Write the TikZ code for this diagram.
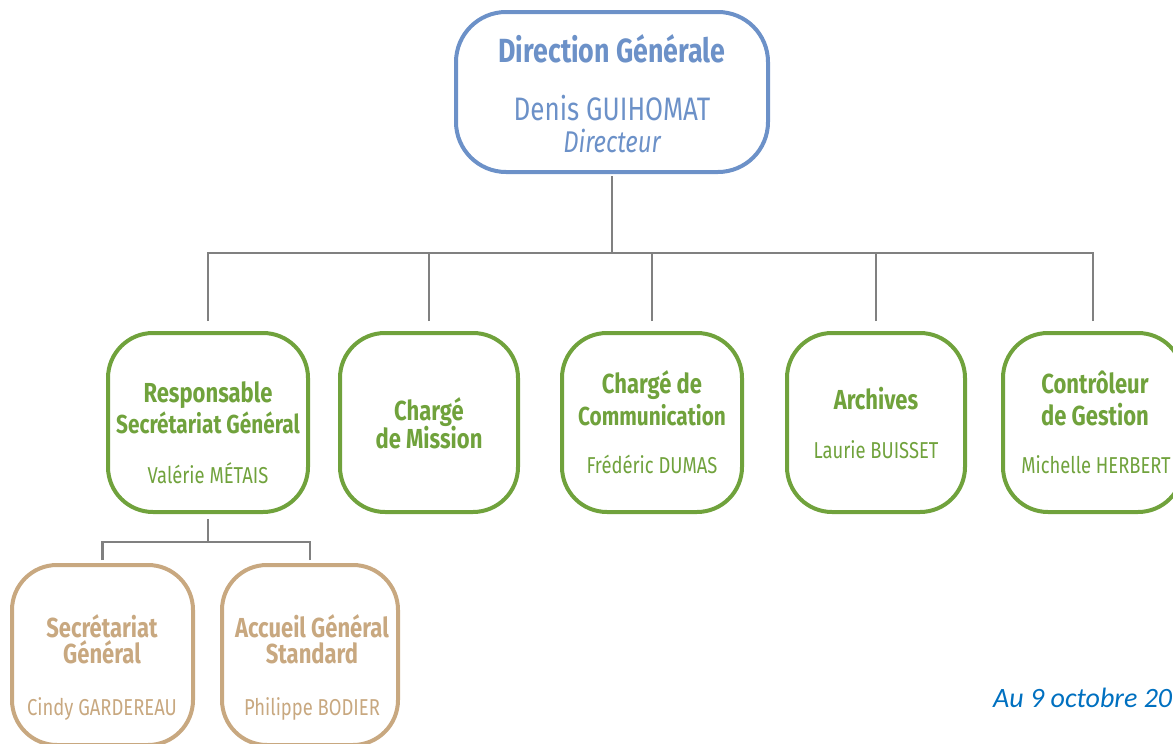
\documentclass[tikz,border=0pt]{standalone}
\usepackage{fontspec}
\setmainfont[FakeStretch=0.8]{Fira Sans}
\newfontfamily\datefont{Carlito}
\usepackage{tikz}
\usetikzlibrary{positioning}
\definecolor{dgblue}{RGB}{108,145,200}
\definecolor{dggreen}{RGB}{112,162,60}
\definecolor{dgbrown}{RGB}{200,168,128}
\definecolor{dggray}{RGB}{128,128,128}
\definecolor{dgdate}{RGB}{0,112,192}
\tikzstyle{topbox} = [rectangle, rounded corners=50pt, minimum width=312pt, minimum height=160pt, draw=dgblue, line width=4pt, inner sep=0pt]
\tikzstyle{unitbox} = [rectangle, rounded corners=45pt, minimum height=179pt, draw=dggreen, line width=4pt, inner sep=0pt]
\tikzstyle{subbox} = [rectangle, rounded corners=45pt, minimum height=180pt, draw=dgbrown, line width=4pt, inner sep=0pt]
\tikzstyle{link} = [line width=2.5pt, color=dggray]
\tikzstyle{toptitle} = [anchor=base, inner sep=0pt, text=dgblue, font=\bfseries\fontsize{33.5}{40}\selectfont]
\tikzstyle{topname} = [anchor=base, inner sep=0pt, text=dgblue, font=\fontsize{32.5}{39}\selectfont]
\tikzstyle{unittitle} = [anchor=base, inner sep=0pt, font=\bfseries\fontsize{27.5}{33}\selectfont]
\tikzstyle{unitname} = [anchor=base, inner sep=0pt, font=\fontsize{23}{28}\selectfont]

\begin{document}
\begin{tikzpicture}[x=1pt, y=-1pt]
\useasboundingbox (0,0) rectangle (1173,744);
\clip (0,0) rectangle (1173,744);

% direction
\node[topbox] (dg) at (612,92) {};
\node[toptitle] (dgtitle) at (612,62) {Direction Générale};
\node[topname] (dgname) at (612,120) {Denis GUIHOMAT};
\node[topname, font=\itshape\fontsize{30}{36}\selectfont] (dgrole) at (612,152) {Directeur};

% services
\node[unitbox, minimum width=200pt] (resp) at (208,422.5) {};
\node[unitbox, minimum width=178pt] (mission) at (429,422.5) {};
\node[unitbox, minimum width=180pt] (comm) at (652,422.5) {};
\node[unitbox, minimum width=178pt] (arch) at (876,422.5) {};
\node[unitbox, minimum width=180pt] (ctrl) at (1093,422.5) {};

\begin{scope}[text=dggreen]
\node[unittitle] (resptitle) at (208,402) {Responsable};
\node[unittitle, font=\bfseries\fontsize{26}{31}\selectfont] (resptitleb) at (208,433) {Secrétariat Général};
\node[unitname] (respname) at (208,483) {Valérie MÉTAIS};
\node[unittitle] (missiontitle) at (429,420) {Chargé};
\node[unittitle] (missiontitleb) at (429,448) {de Mission};
\node[unittitle] (commtitle) at (652,393) {Chargé de};
\node[unittitle, font=\bfseries\fontsize{26}{31}\selectfont] (commtitleb) at (652,425) {Communication};
\node[unitname] (commname) at (652,473) {Frédéric DUMAS};
\node[unittitle] (archtitle) at (876,409) {Archives};
\node[unitname] (archname) at (876,458) {Laurie BUISSET};
\node[unittitle] (ctrltitle) at (1095,393) {Contrôleur};
\node[unittitle] (ctrltitleb) at (1095,425) {de Gestion};
\node[unitname] (ctrlname) at (1096,473) {Michelle HERBERT};
\end{scope}

% secretariat
\node[subbox, minimum width=181pt] (secr) at (102.5,655) {};
\node[subbox, minimum width=176pt] (accueil) at (310,655) {};

\begin{scope}[text=dgbrown]
\node[unittitle] (secrtitle) at (102,637) {Secrétariat};
\node[unittitle] (secrtitleb) at (102,663) {Général};
\node[unitname] (secrname) at (102,715) {Cindy GARDEREAU};
\node[unittitle] (accueiltitle) at (312,637) {Accueil Général};
\node[unittitle] (accueiltitleb) at (312,663) {Standard};
\node[unitname] (accueilname) at (312,715) {Philippe BODIER};
\end{scope}

% links
\coordinate (bus) at (612,253);
\coordinate (subbus) at (208,542);
\draw[link, shorten <=2pt] (dg.south) -- (bus);
\foreach \n in {resp,mission,comm,arch,ctrl}
  \draw[link, shorten <=10pt] (\n.north) |- (bus);
\draw[link, shorten <=5pt] (resp.south) -- (subbus);
\foreach \n in {secr,accueil}
  \draw[link, shorten <=3pt] (\n.north) |- (subbus);

\node[anchor=base west, inner sep=0pt, text=dgdate, font=\datefont\itshape\fontsize{28}{34}\selectfont] (date) at (993,707) {Au 9 octobre 20};
\end{tikzpicture}
\end{document}
